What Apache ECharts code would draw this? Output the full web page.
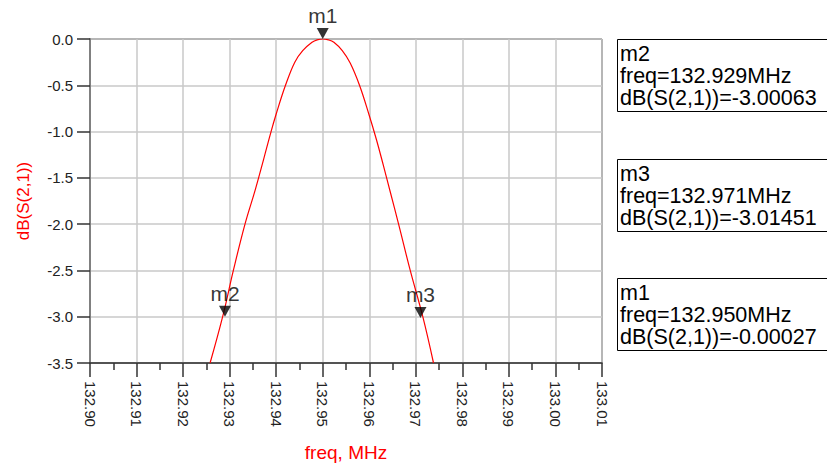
<!DOCTYPE html>
<html>
<head>
<meta charset="utf-8">
<script src="https://cdn.jsdelivr.net/npm/echarts@6/dist/echarts.min.js"></script>
<style>
html,body{margin:0;padding:0;background:#fff;}
#chart{width:827px;height:468px;}
</style>
</head>
<body>
<div id="chart"></div>
<script>
// Curve: freq (MHz) and dB(S(2,1))
var freqs = [132.9258,132.9285,132.9308,132.9333,132.9355,132.9373,132.9389,132.9400,132.9420,132.9440,132.9457,132.9477,132.9488,132.9500,
             132.9512,132.9524,132.9542,132.9559,132.9579,132.9599,132.9615,132.9630,132.9645,132.9663,132.9688,132.9715,132.9738];
var dbVals = [-3.5,-3.0,-2.5,-2.0,-1.63,-1.3,-1.0,-0.81,-0.5,-0.25,-0.126,-0.036,-0.009,0.0,
              -0.009,-0.036,-0.126,-0.26,-0.5,-0.81,-1.08,-1.36,-1.65,-2.0,-2.5,-3.0,-3.5];

// Markers
var markerNames = ['m1','m2','m3'];
var markerFreqs = [132.950, 132.929, 132.971];
var markerDb = [-0.00027, -3.00063, -3.01451];

// Marker readout boxes, in display order
var boxOrder = ['m2','m3','m1'];

// Axis ticks
var xMin = 132.90, xMax = 133.01, xStep = 0.01;
var yMin = -3.5, yMax = 0, yStep = 0.5;

var FONT = 'Liberation Sans, Arial, sans-serif';

var curve = freqs.map(function(f,i){ return [f, dbVals[i]]; });
var marks = markerNames.map(function(n,i){ return {name:n, value:[markerFreqs[i], markerDb[i]]}; });

var graphics = [];
var boxTops = [39, 159, 278];
boxOrder.forEach(function(n, k){
  var i = markerNames.indexOf(n);
  var top = boxTops[k];
  graphics.push({type:'rect', shape:{x:617.5, y:top+0.5, width:240, height:72},
    style:{fill:'#fff', stroke:'#000', lineWidth:1}, z:10});
  var lines = [n, 'freq=' + markerFreqs[i].toFixed(3) + 'MHz', 'dB(S(2,1))=' + markerDb[i].toFixed(5)];
  lines.forEach(function(t, j){
    graphics.push({type:'text', x:620, y:top + 14.5 + j*22,
      style:{text:t, fill:'#000', font:'21.5px ' + FONT, textVerticalAlign:'middle', textAlign:'left'}, z:11});
  });
});

var chart = echarts.init(document.getElementById('chart'), null, {renderer:'svg'});
chart.setOption({
  animation:false,
  backgroundColor:'#fff',
  grid:{left:90, top:39, width:512, height:324, show:true, borderColor:'#000', borderWidth:1,
        backgroundColor:'transparent', containLabel:false, outerBoundsMode:'none'},
  xAxis:{
    type:'value', min:xMin, max:xMax, interval:xStep,
    name:'freq, MHz', nameLocation:'middle', nameGap:80,
    nameTextStyle:{color:'#ff0000', fontSize:19, fontFamily:FONT},
    axisLine:{show:true, onZero:false, lineStyle:{color:'#333', width:1.5}},
    axisTick:{show:true, length:14, lineStyle:{color:'#333', width:1.5}},
    minorTick:{show:true, splitNumber:2, length:7, lineStyle:{color:'#333', width:1.5}},
    axisLabel:{rotate:-90, margin:18, color:'#222', fontSize:15, fontFamily:FONT,
      formatter:function(v){ return v.toFixed(2); }},
    splitLine:{show:true, lineStyle:{color:'#c8c8c8', width:1.5}}
  },
  yAxis:{
    type:'value', min:yMin, max:yMax, interval:yStep,
    name:'dB(S(2,1))', nameLocation:'middle', nameGap:58, nameRotate:90,
    nameTextStyle:{color:'#ff0000', fontSize:17, fontFamily:FONT},
    axisLine:{show:true, onZero:false, lineStyle:{color:'#808080', width:2}},
    axisTick:{show:true, length:13, lineStyle:{color:'#333', width:1.5}},
    axisLabel:{margin:17, color:'#222', fontSize:15, fontFamily:FONT,
      formatter:function(v){ return v.toFixed(1); }},
    splitLine:{show:true, lineStyle:{color:'#c8c8c8', width:1.5}}
  },
  series:[
    {type:'line', data:curve, smooth:0.4, symbol:'none', clip:true,
     lineStyle:{color:'#ff0000', width:1.2}, z:3},
    {type:'scatter', data:marks, symbol:'triangle', symbolRotate:180, symbolSize:[12,11],
     symbolOffset:[0,-5.5], itemStyle:{color:'#000'}, z:5,
     label:{show:true, position:'top', distance:2, formatter:'{b}', color:'#000', fontSize:21, fontFamily:FONT}}
  ],
  graphic:graphics
});
</script>
</body>
</html>
